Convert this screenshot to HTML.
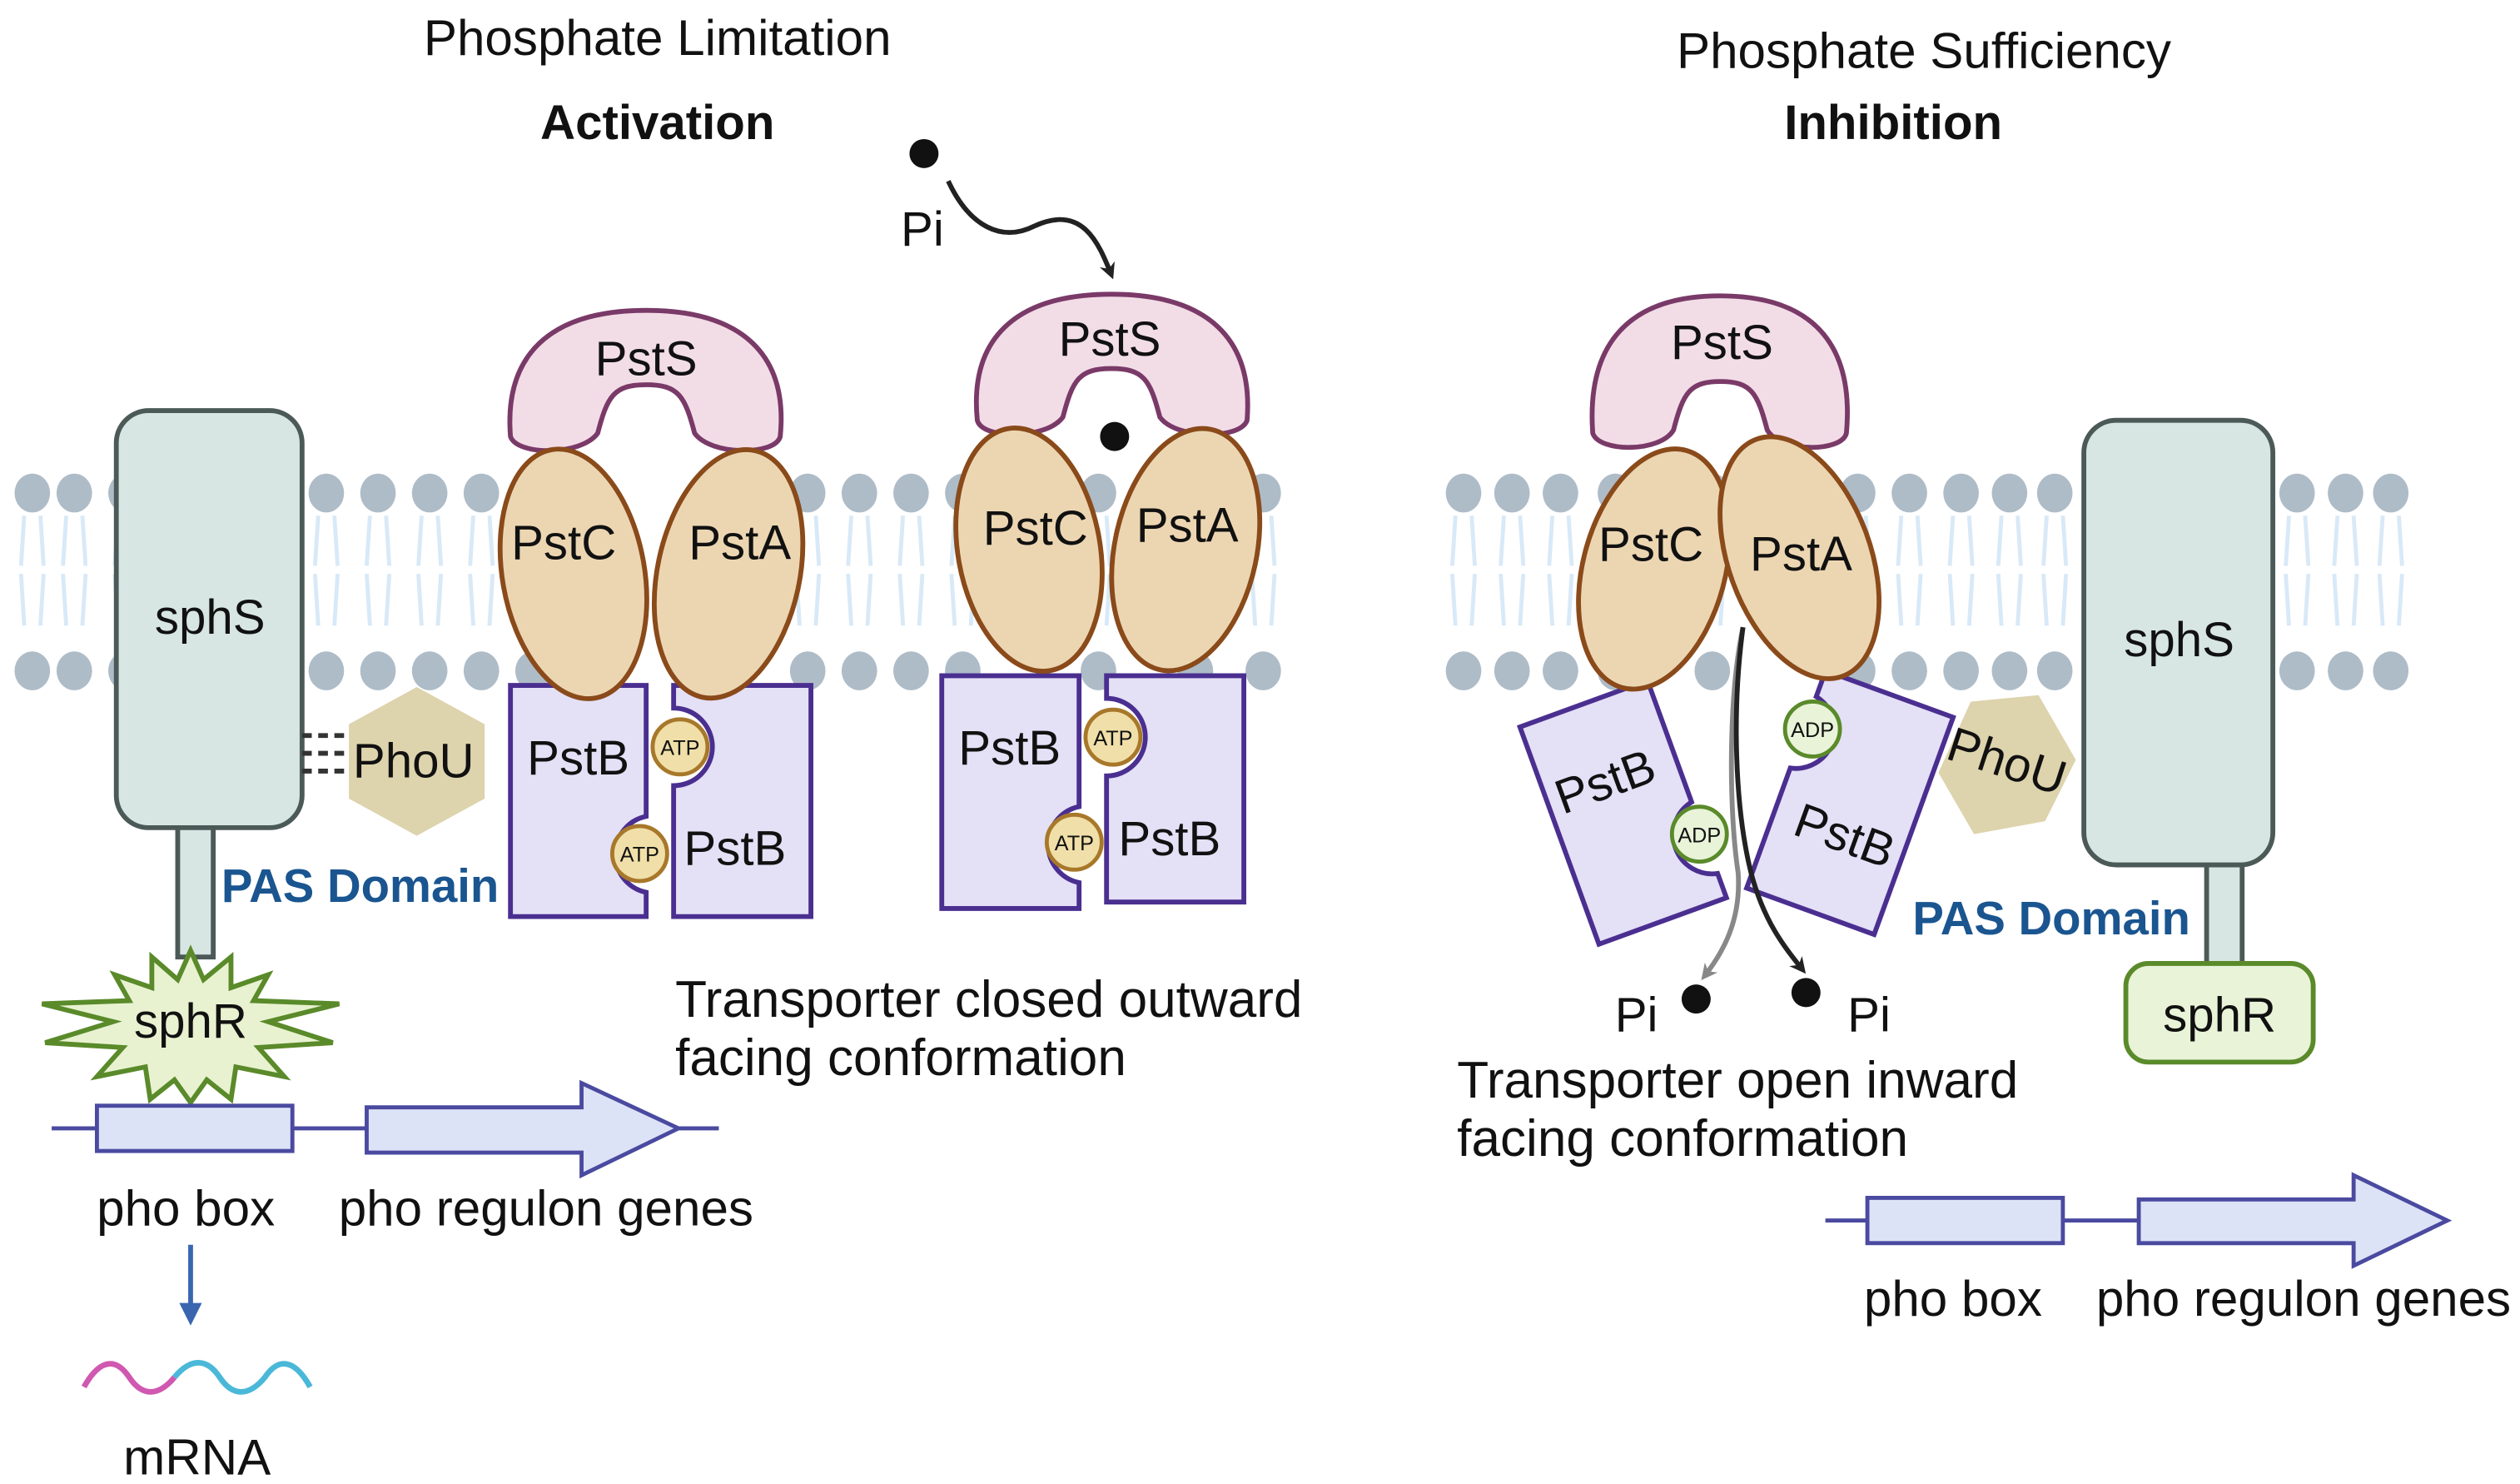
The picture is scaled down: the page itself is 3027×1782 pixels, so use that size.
<!DOCTYPE html>
<html><head><meta charset="utf-8"><style>
html,body{margin:0;padding:0;background:#fff}
svg{display:block}
text{font-family:"Liberation Sans",sans-serif;fill:#111}
</style></head><body>
<svg width="3027" height="1782" viewBox="0 0 1560 918" preserveAspectRatio="none" xmlns="http://www.w3.org/2000/svg">
<defs>
<g id="lip">
<path d="M-5,14 L-7,45 M5,14 L7,45 M-7,50 L-5,82 M7,50 L5,82" stroke="#d8e9f7" stroke-width="2.5" fill="none"/>
<ellipse cx="0" cy="0" rx="11" ry="12" fill="#aebcc8"/>
<ellipse cx="0" cy="110" rx="11" ry="12" fill="#aebcc8"/>
</g>
<marker id="ab" markerWidth="10" markerHeight="10" refX="7" refY="5" orient="auto" markerUnits="userSpaceOnUse"><path d="M0,0 L10,5 L0,10 L3,5Z" fill="#222"/></marker>
<marker id="ag" markerWidth="10" markerHeight="10" refX="7" refY="5" orient="auto" markerUnits="userSpaceOnUse"><path d="M0,0 L10,5 L0,10 L3,5Z" fill="#888"/></marker>
<marker id="abl" markerWidth="14" markerHeight="14" refX="10" refY="7" orient="auto" markerUnits="userSpaceOnUse"><path d="M0,0 L14,7 L0,14Z" fill="#3a66b0"/></marker>
</defs>

<g transform="translate(0,305)">
<use href="#lip" x="20"/><use href="#lip" x="46"/><use href="#lip" x="78"/><use href="#lip" x="202"/><use href="#lip" x="234"/><use href="#lip" x="266"/><use href="#lip" x="298"/><use href="#lip" x="330"/><use href="#lip" x="370"/><use href="#lip" x="440"/><use href="#lip" x="500"/><use href="#lip" x="532"/><use href="#lip" x="564"/><use href="#lip" x="596"/><use href="#lip" x="680"/><use href="#lip" x="740"/><use href="#lip" x="782"/>
<use href="#lip" x="906"/><use href="#lip" x="936"/><use href="#lip" x="966"/><use href="#lip" x="1000"/><use href="#lip" x="1060"/><use href="#lip" x="1150"/><use href="#lip" x="1182"/><use href="#lip" x="1214"/><use href="#lip" x="1244"/><use href="#lip" x="1272"/><use href="#lip" x="1422"/><use href="#lip" x="1452"/><use href="#lip" x="1480"/>
</g>

<text x="407" y="34" font-size="31" text-anchor="middle">Phosphate Limitation</text>
<text x="407" y="86" font-size="30" font-weight="bold" text-anchor="middle">Activation</text>
<text x="1191" y="42" font-size="31" text-anchor="middle">Phosphate Sufficiency</text>
<text x="1172" y="86" font-size="30" font-weight="bold" text-anchor="middle">Inhibition</text>

<rect x="110" y="510" width="22" height="82" fill="#d7e6e2" stroke="#4b5a57" stroke-width="3"/>
<rect x="72" y="254" width="115" height="258" rx="20" fill="#d7e6e2" stroke="#4b5a57" stroke-width="3"/>
<text x="130" y="392" font-size="30" text-anchor="middle">sphS</text>
<path d="M187,455 H213 M187,466 H213 M187,477 H213" stroke="#333" stroke-width="3" stroke-dasharray="6,4"/>
<polygon points="258,425 300,448 300,494 258,517 216,494 216,448" fill="#ddd3ad"/>
<text x="256" y="481" font-size="30" text-anchor="middle">PhoU</text>
<text x="137" y="558" font-size="29" font-weight="bold" style="fill:#1a5590">PAS Domain</text>
<polygon points="118,588 126,606 143,592 143,611 166,603 157,619 210,621 166,632 206,645 160,648 176,666 146,660 143,680 128,668 118,682 108,668 93,680 90,660 60,666 76,648 28,645 70,632 26,621 80,619 71,603 94,611 94,592 110,606" fill="#e8f2d0" stroke="#5a8a2a" stroke-width="3"/>
<text x="118" y="642" font-size="30" text-anchor="middle">sphR</text>
<line x1="32" y1="698" x2="445" y2="698" stroke="#4a4aa0" stroke-width="2.5"/>
<rect x="60" y="684" width="121" height="28" fill="#dde3f7" stroke="#4a4aa0" stroke-width="2.5"/>
<polygon points="227,685 360,685 360,670 420,698 360,727 360,713 227,713" fill="#dde3f7" stroke="#4a4aa0" stroke-width="2.5"/>
<text x="115" y="758" font-size="31" text-anchor="middle">pho box</text>
<text x="338" y="758" font-size="31" text-anchor="middle">pho regulon genes</text>
<line x1="118" y1="770" x2="118" y2="816" stroke="#3a66b0" stroke-width="3" marker-end="url(#abl)"/>
<path d="M52,858 C62,840 72,840 80,852 C88,864 98,864 108,852" stroke="#d058b0" stroke-width="3.5" fill="none"/>
<path d="M108,852 C118,840 128,840 136,852 C144,864 154,864 164,852 C172,840 182,840 192,858" stroke="#4ab8d8" stroke-width="3.5" fill="none"/>
<text x="122" y="912" font-size="31" text-anchor="middle">mRNA</text>

<path d="M316,270 C312,220 340,192 400,192 C460,192 488,220 483,270 C480,282 440,282 430,268 C424,245 420,238 400,238 C380,238 376,245 370,268 C360,282 320,282 316,270Z" fill="#f2dde7" stroke="#7a3a68" stroke-width="3"/>
<text x="400" y="232" font-size="30" text-anchor="middle">PstS</text>
<path d="M316,424 H400 V505 A24,24 0 0 0 400,552 V567 H316Z" fill="#e4e0f6" stroke="#4a2f90" stroke-width="3"/>
<path d="M417,424 H502 V567 H417 V486 A24,24 0 0 0 417,438Z" fill="#e4e0f6" stroke="#4a2f90" stroke-width="3"/>
<ellipse cx="355" cy="355" rx="44" ry="78" transform="rotate(-10 355 355)" fill="#ecd6b2" stroke="#8a4a1a" stroke-width="3"/>
<ellipse cx="451" cy="355" rx="44" ry="78" transform="rotate(12 451 355)" fill="#ecd6b2" stroke="#8a4a1a" stroke-width="3"/>
<text x="349" y="346" font-size="30" text-anchor="middle">PstC</text>
<text x="458" y="346" font-size="30" text-anchor="middle">PstA</text>
<text x="358" y="479" font-size="30" text-anchor="middle">PstB</text>
<text x="455" y="535" font-size="30" text-anchor="middle">PstB</text>
<circle cx="421" cy="462" r="17" fill="#f0dfa8" stroke="#a8782a" stroke-width="2.5"/>
<text x="421" y="467" font-size="13" text-anchor="middle">ATP</text>
<circle cx="396" cy="528" r="17" fill="#f0dfa8" stroke="#a8782a" stroke-width="2.5"/>
<text x="396" y="533" font-size="13" text-anchor="middle">ATP</text>

<circle cx="572" cy="95" r="9" fill="#111"/>
<text x="571" y="152" font-size="30" text-anchor="middle">Pi</text>
<path d="M587,112 C600,140 620,150 640,140 C670,126 680,150 688,170" stroke="#222" stroke-width="3" fill="none" marker-end="url(#ab)"/>
<path d="M605,260 C600,210 628,182 688,182 C748,182 776,210 772,260 C768,272 728,272 718,258 C712,235 708,228 688,228 C668,228 664,235 658,258 C648,272 608,272 605,260Z" fill="#f2dde7" stroke="#7a3a68" stroke-width="3"/>
<text x="687" y="220" font-size="30" text-anchor="middle">PstS</text>
<path d="M583,418 H668 V499 A24,24 0 0 0 668,546 V562 H583Z" fill="#e4e0f6" stroke="#4a2f90" stroke-width="3"/>
<path d="M685,418 H770 V558 H685 V480 A24,24 0 0 0 685,432Z" fill="#e4e0f6" stroke="#4a2f90" stroke-width="3"/>
<ellipse cx="637" cy="340" rx="44" ry="76" transform="rotate(-10 637 340)" fill="#ecd6b2" stroke="#8a4a1a" stroke-width="3"/>
<ellipse cx="734" cy="340" rx="44" ry="76" transform="rotate(12 734 340)" fill="#ecd6b2" stroke="#8a4a1a" stroke-width="3"/>
<circle cx="690" cy="270" r="9" fill="#111"/>
<text x="641" y="337" font-size="30" text-anchor="middle">PstC</text>
<text x="735" y="335" font-size="30" text-anchor="middle">PstA</text>
<text x="625" y="473" font-size="30" text-anchor="middle">PstB</text>
<text x="724" y="529" font-size="30" text-anchor="middle">PstB</text>
<circle cx="689" cy="456" r="17" fill="#f0dfa8" stroke="#a8782a" stroke-width="2.5"/>
<text x="689" y="461" font-size="13" text-anchor="middle">ATP</text>
<circle cx="665" cy="521" r="17" fill="#f0dfa8" stroke="#a8782a" stroke-width="2.5"/>
<text x="665" y="526" font-size="13" text-anchor="middle">ATP</text>
<text x="418" y="629" font-size="32">Transporter closed outward</text>
<text x="418" y="665" font-size="32">facing conformation</text>

<path d="M986,268 C982,213 1008,183 1065,183 C1122,183 1148,213 1143,268 C1140,280 1102,280 1094,266 C1088,243 1084,236 1065,236 C1046,236 1042,243 1036,266 C1028,280 990,280 986,268Z" fill="#f2dde7" stroke="#7a3a68" stroke-width="3"/>
<text x="1066" y="222" font-size="30" text-anchor="middle">PstS</text>
<g transform="translate(1005,503) rotate(-20)">
<path d="M-42,-72 H42 V8 A24,24 0 0 0 42,55 V71 H-42Z" fill="#e4e0f6" stroke="#4a2f90" stroke-width="3"/>
<text x="-4" y="-12" font-size="30" text-anchor="middle">PstB</text>
</g>
<g transform="translate(1145,497) rotate(20)">
<path d="M-42,-72 H42 V71 H-42 V-8 A24,24 0 0 0 -42,-55Z" fill="#e4e0f6" stroke="#4a2f90" stroke-width="3"/>
<text x="4" y="30" font-size="30" text-anchor="middle">PstB</text>
</g>
<ellipse cx="1024" cy="352" rx="44" ry="76" transform="rotate(15 1024 352)" fill="#ecd6b2" stroke="#8a4a1a" stroke-width="3"/>
<ellipse cx="1114" cy="345" rx="44" ry="78" transform="rotate(-20 1114 345)" fill="#ecd6b2" stroke="#8a4a1a" stroke-width="3"/>
<text x="1022" y="347" font-size="30" text-anchor="middle">PstC</text>
<text x="1115" y="353" font-size="30" text-anchor="middle">PstA</text>
<circle cx="1122" cy="451" r="17" fill="#e8f3d8" stroke="#5a8a2a" stroke-width="2.5"/>
<text x="1122" y="456" font-size="13" text-anchor="middle">ADP</text>
<circle cx="1052" cy="516" r="17" fill="#e8f3d8" stroke="#5a8a2a" stroke-width="2.5"/>
<text x="1052" y="521" font-size="13" text-anchor="middle">ADP</text>
<path d="M1079,388 C1070,430 1070,500 1076,540 C1078,570 1066,590 1055,604" stroke="#888" stroke-width="3" fill="none" marker-end="url(#ag)"/>
<path d="M1079,388 C1072,440 1074,500 1084,540 C1092,570 1104,585 1116,600" stroke="#222" stroke-width="3" fill="none" marker-end="url(#ab)"/>
<circle cx="1050" cy="618" r="9" fill="#111"/>
<circle cx="1118" cy="614" r="9" fill="#111"/>
<text x="1013" y="638" font-size="30" text-anchor="middle">Pi</text>
<text x="1157" y="638" font-size="30" text-anchor="middle">Pi</text>
<text x="902" y="679" font-size="32">Transporter open inward</text>
<text x="902" y="715" font-size="32">facing conformation</text>
<polygon points="1220,434 1262,430 1285,470 1266,508 1222,516 1200,478" fill="#ddd3ad"/>
<text x="1242" y="481" font-size="30" text-anchor="middle" transform="rotate(18 1242 472)">PhoU</text>
<rect x="1366" y="532" width="22" height="66" fill="#d7e6e2" stroke="#4b5a57" stroke-width="3"/>
<rect x="1290" y="260" width="117" height="275" rx="20" fill="#d7e6e2" stroke="#4b5a57" stroke-width="3"/>
<text x="1349" y="406" font-size="30" text-anchor="middle">sphS</text>
<text x="1184" y="578" font-size="29" font-weight="bold" style="fill:#1a5590">PAS Domain</text>
<rect x="1316" y="596" width="116" height="61" rx="14" fill="#e8f3d8" stroke="#5a8a2a" stroke-width="3"/>
<text x="1374" y="638" font-size="30" text-anchor="middle">sphR</text>
<line x1="1130" y1="755" x2="1515" y2="755" stroke="#4a4aa0" stroke-width="2.5"/>
<rect x="1156" y="741" width="121" height="28" fill="#dde3f7" stroke="#4a4aa0" stroke-width="2.5"/>
<polygon points="1324,742 1457,742 1457,727 1515,755 1457,783 1457,769 1324,769" fill="#dde3f7" stroke="#4a4aa0" stroke-width="2.5"/>
<text x="1209" y="814" font-size="31" text-anchor="middle">pho box</text>
<text x="1426" y="814" font-size="31" text-anchor="middle">pho regulon genes</text>
</svg>
</body></html>
